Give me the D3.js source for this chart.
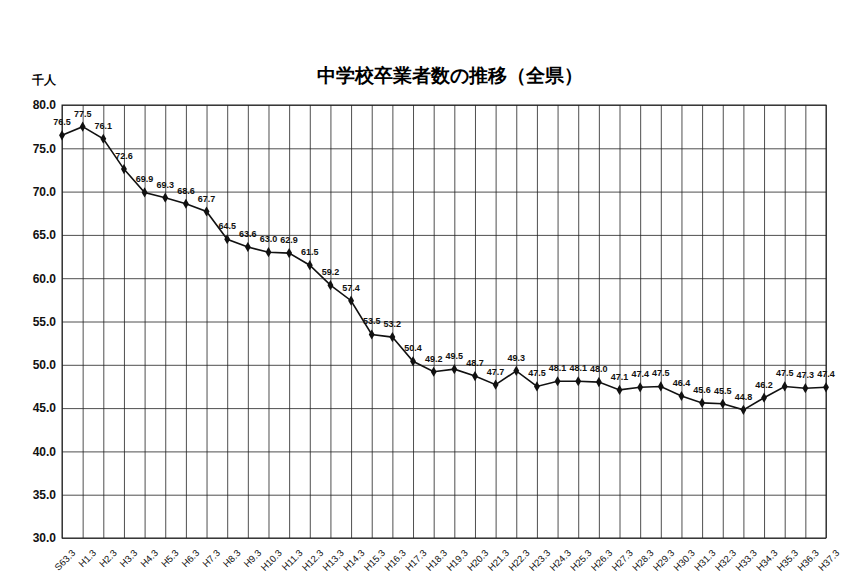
<!DOCTYPE html>
<html><head><meta charset="utf-8">
<script src="https://cdn.jsdelivr.net/npm/d3@7"></script>
<style>body{margin:0;background:#fff}text{font-family:"Liberation Sans",Arial,sans-serif}</style>
</head><body><svg id="c" width="856" height="584"></svg>
<script>
var labels = ["S63.3","H1.3","H2.3","H3.3","H4.3","H5.3","H6.3","H7.3","H8.3","H9.3","H10.3","H11.3","H12.3","H13.3","H14.3","H15.3","H16.3","H17.3","H18.3","H19.3","H20.3","H21.3","H22.3","H23.3","H24.3","H25.3","H26.3","H27.3","H28.3","H29.3","H30.3","H31.3","H32.3","H33.3","H34.3","H35.3","H36.3","H37.3"];
var values = [76.5,77.5,76.1,72.6,69.9,69.3,68.6,67.7,64.5,63.6,63.0,62.9,61.5,59.2,57.4,53.5,53.2,50.4,49.2,49.5,48.7,47.7,49.3,47.5,48.1,48.1,48.0,47.1,47.4,47.5,46.4,45.6,45.5,44.8,46.2,47.5,47.3,47.4];
var yTicks = [30,35,40,45,50,55,60,65,70,75,80];

var svg = d3.select("#c");
var L = 62, R = 826, T = 105, B = 538;
var x = d3.scalePoint().domain(labels).range([L, R]);
var y = d3.scaleLinear().domain([30, 80]).range([B, T]);

svg.append("g").attr("transform","translate(" + L + ",0)")
  .call(d3.axisLeft(y).tickValues(yTicks).tickFormat(d3.format(".1f")).tickSize(-(R - L)).tickPadding(6))
  .call(function(g){ g.select(".domain").remove();
    g.selectAll("line").attr("stroke","#222").attr("stroke-width",0.8);
    g.selectAll("text").attr("font-size",12).attr("font-weight","bold").attr("fill","#111"); });

svg.append("g").attr("transform","translate(0," + B + ")")
  .call(d3.axisBottom(x).tickSize(-(B - T)).tickPadding(4))
  .call(function(g){ g.select(".domain").remove();
    g.selectAll("line").attr("stroke","#222").attr("stroke-width",0.8);
    g.selectAll("text").attr("font-size",9.5).attr("fill","#111")
      .attr("text-anchor","end").attr("transform","translate(6,8) rotate(-45)"); });

svg.append("rect").attr("x",L).attr("y",T).attr("width",R-L).attr("height",B-T)
  .attr("fill","none").attr("stroke","#222").attr("stroke-width",1);

svg.append("path").datum(values)
  .attr("d", d3.line().x(function(d,i){ return x(labels[i]); }).y(function(d){ return y(d); }))
  .attr("fill","none").attr("stroke","#111").attr("stroke-width",1.6);

svg.selectAll(".pt").data(values).enter().append("path")
  .attr("transform", function(d,i){ return "translate(" + x(labels[i]) + "," + y(d) + ")"; })
  .attr("d", d3.symbol(d3.symbolDiamond, 30)).attr("fill","#111");

svg.selectAll(".lb").data(values).enter().append("text")
  .attr("x", function(d,i){ return x(labels[i]); })
  .attr("y", function(d){ return y(d) - 10; })
  .attr("text-anchor","middle").attr("font-size",9).attr("font-weight","bold").attr("fill","#111")
  .text(function(d){ return d.toFixed(1); });

svg.append("text").attr("x",450).attr("y",82).attr("text-anchor","middle")
  .attr("font-size",19).attr("font-weight","bold").attr("font-family","Noto Sans CJK JP")
  .text("中学校卒業者数の推移（全県）");
svg.append("text").attr("x",32).attr("y",84).attr("font-size",12).attr("font-weight","bold")
  .attr("font-family","Noto Sans CJK JP").text("千人");
</script></body></html>
